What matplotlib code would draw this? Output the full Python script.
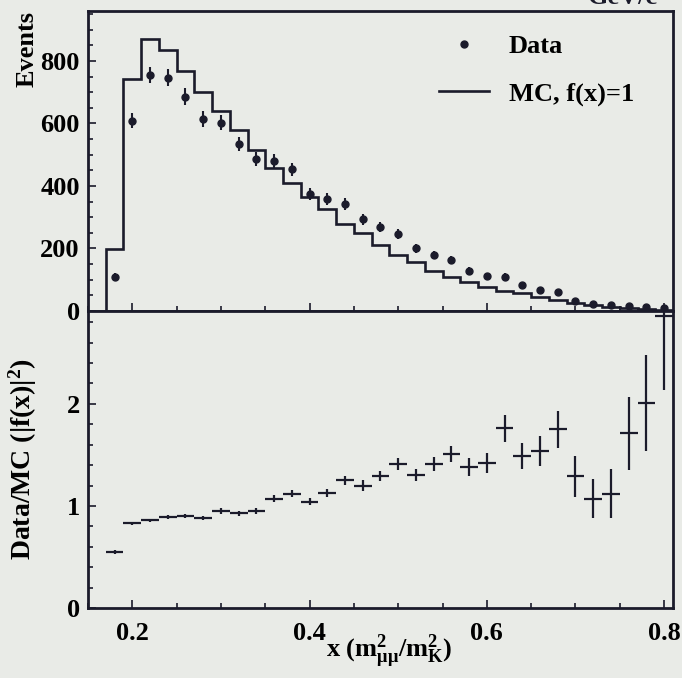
import matplotlib
matplotlib.use("Agg")
import matplotlib.pyplot as plt
from matplotlib.lines import Line2D
from matplotlib.ticker import MultipleLocator, FixedLocator
import numpy as np

# ---------------- data ----------------
bin_edges = [0.17, 0.19, 0.21, 0.23, 0.25, 0.27, 0.29, 0.31, 0.33, 0.35, 0.37,
             0.39, 0.41, 0.43, 0.45, 0.47, 0.49, 0.51, 0.53, 0.55, 0.57, 0.59,
             0.61, 0.63, 0.65, 0.67, 0.69, 0.71, 0.73, 0.75, 0.77, 0.79, 0.81]
bin_centers = [0.18, 0.20, 0.22, 0.24, 0.26, 0.28, 0.30, 0.32, 0.34, 0.36, 0.38,
               0.40, 0.42, 0.44, 0.46, 0.48, 0.50, 0.52, 0.54, 0.56, 0.58, 0.60,
               0.62, 0.64, 0.66, 0.68, 0.70, 0.72, 0.74, 0.76, 0.78, 0.80]
mc_counts = [197, 742, 870, 835, 769, 702, 640, 579, 515, 457, 409,
             366, 325, 278, 250, 211, 179, 158, 129, 110, 94, 78,
             65, 57, 44, 35, 26, 19, 14, 10, 7, 4]
data_counts = [110, 609, 755, 747, 686, 614, 603, 534, 486, 481, 453,
               374, 359, 342, 293, 268, 247, 201, 180, 163, 129, 111,
               110, 82, 67, 60, 33, 22, 18, 17, 14, 11]
data_err = [10, 25, 27, 27, 26, 25, 25, 23, 22, 22, 21,
            19, 19, 18, 17, 16, 16, 14, 13, 13, 11, 11,
            10, 9, 8, 8, 6, 5, 4, 4, 4, 3]
ratio = [0.55, 0.83, 0.86, 0.89, 0.90, 0.88, 0.95, 0.93, 0.95, 1.07, 1.12,
         1.04, 1.13, 1.25, 1.20, 1.29, 1.41, 1.30, 1.41, 1.51, 1.38, 1.42,
         1.76, 1.49, 1.54, 1.75, 1.29, 1.07, 1.12, 1.71, 2.01, 2.86]
ratio_err = [0.02, 0.015, 0.015, 0.02, 0.02, 0.02, 0.025, 0.025, 0.03, 0.035, 0.035,
             0.035, 0.04, 0.045, 0.05, 0.05, 0.055, 0.06, 0.065, 0.08, 0.085, 0.10,
             0.13, 0.13, 0.15, 0.18, 0.20, 0.19, 0.24, 0.36, 0.47, 0.72]
half_bin = 0.01

top_yticks = [0, 200, 400, 600, 800]
bot_yticks = [0, 1, 2]
xticks = [0.2, 0.4, 0.6, 0.8]
xtick_labels = ["0.2", "0.4", "0.6", "0.8"]

# ---------------- style ----------------
bg = "#e9ebe7"
ink = "#1b1b2b"
font = "Liberation Serif"
plt.rcParams["font.family"] = [font, "DejaVu Serif"]
plt.rcParams["font.weight"] = "bold"
plt.rcParams["mathtext.fontset"] = "custom"
plt.rcParams["mathtext.rm"] = font + ":bold"
plt.rcParams["mathtext.it"] = font + ":bold"
plt.rcParams["mathtext.bf"] = font + ":bold"
fs = 19

fig = plt.figure(figsize=(6.82, 6.78), dpi=100, facecolor=bg)
ax1 = fig.add_axes([0.12903, 0.54130, 0.85777, 0.44248], facecolor=bg)
ax2 = fig.add_axes([0.12903, 0.10324, 0.85777, 0.43805], facecolor=bg)

# top panel
ax1.stairs(mc_counts, bin_edges, baseline=0, color=ink, lw=1.9)
ax1.errorbar(bin_centers, data_counts, yerr=data_err, fmt="o", ms=5,
             color=ink, ecolor=ink, elinewidth=1.5, capsize=0)
ax1.set_xlim(0.15, 0.81)
ax1.set_ylim(0, 960)
ax1.yaxis.set_major_locator(FixedLocator(top_yticks))
ax1.yaxis.set_minor_locator(MultipleLocator(50))
ax1.set_xticks(xticks)
ax1.xaxis.set_minor_locator(MultipleLocator(0.05))
ax1.tick_params(axis="x", labelbottom=False)
ax1.set_ylabel("Events", fontsize=fs, fontweight="bold", loc="top")
ax1.yaxis.set_label_coords(-0.084, 1.0)

handles = [Line2D([], [], marker="o", ls="none", ms=5, color=ink),
           Line2D([], [], color=ink, lw=1.9)]
ax1.legend(handles, ["Data", "MC, f(x)=1"], loc="upper left",
           bbox_to_anchor=(0.60, 0.92), frameon=False, fontsize=fs,
           handlelength=1.9, handletextpad=0.75, labelspacing=0.9,
           borderpad=0, borderaxespad=0)

# bottom panel
ax2.errorbar(bin_centers, ratio, xerr=half_bin, yerr=ratio_err, fmt="none",
             ecolor=ink, elinewidth=1.6, capsize=0)
ax2.set_xlim(0.15, 0.81)
ax2.set_ylim(0, 2.91)
ax2.yaxis.set_major_locator(FixedLocator(bot_yticks))
ax2.yaxis.set_minor_locator(MultipleLocator(0.2))
ax2.set_xticks(xticks)
ax2.set_xticklabels(xtick_labels)
ax2.xaxis.set_minor_locator(MultipleLocator(0.05))
ax2.set_ylabel(r"Data/MC (|f(x)|$^{2}$)", fontsize=20, fontweight="bold")
ax2.yaxis.set_label_coords(-0.084, 0.5)
ax2.set_xlabel(r"x (m$^{2}_{\mathrm{\mu\mu}}$/m$^{2}_{\mathrm{K}}$)",
               fontsize=fs, fontweight="bold", labelpad=-9)
ax2.xaxis.label.set_x(0.515)

for ax in (ax1, ax2):
    for sp in ax.spines.values():
        sp.set_color(ink)
        sp.set_linewidth(2.0)
    ax.tick_params(which="both", direction="in", color=ink, width=1.2,
                   labelsize=fs, top=False, right=False)
    ax.tick_params(which="major", length=6)
    ax.tick_params(which="minor", length=3.5)
    ax.tick_params(axis="y", pad=6)
    ax.tick_params(axis="x", pad=10)
    for lab in ax.get_xticklabels() + ax.get_yticklabels():
        lab.set_fontweight("bold")

fig.text(0.913, 0.994, "GeV/c", fontsize=fs, fontweight="bold",
         ha="center", va="baseline", color=ink)

fig.savefig("out.png", dpi=100, facecolor=bg)
